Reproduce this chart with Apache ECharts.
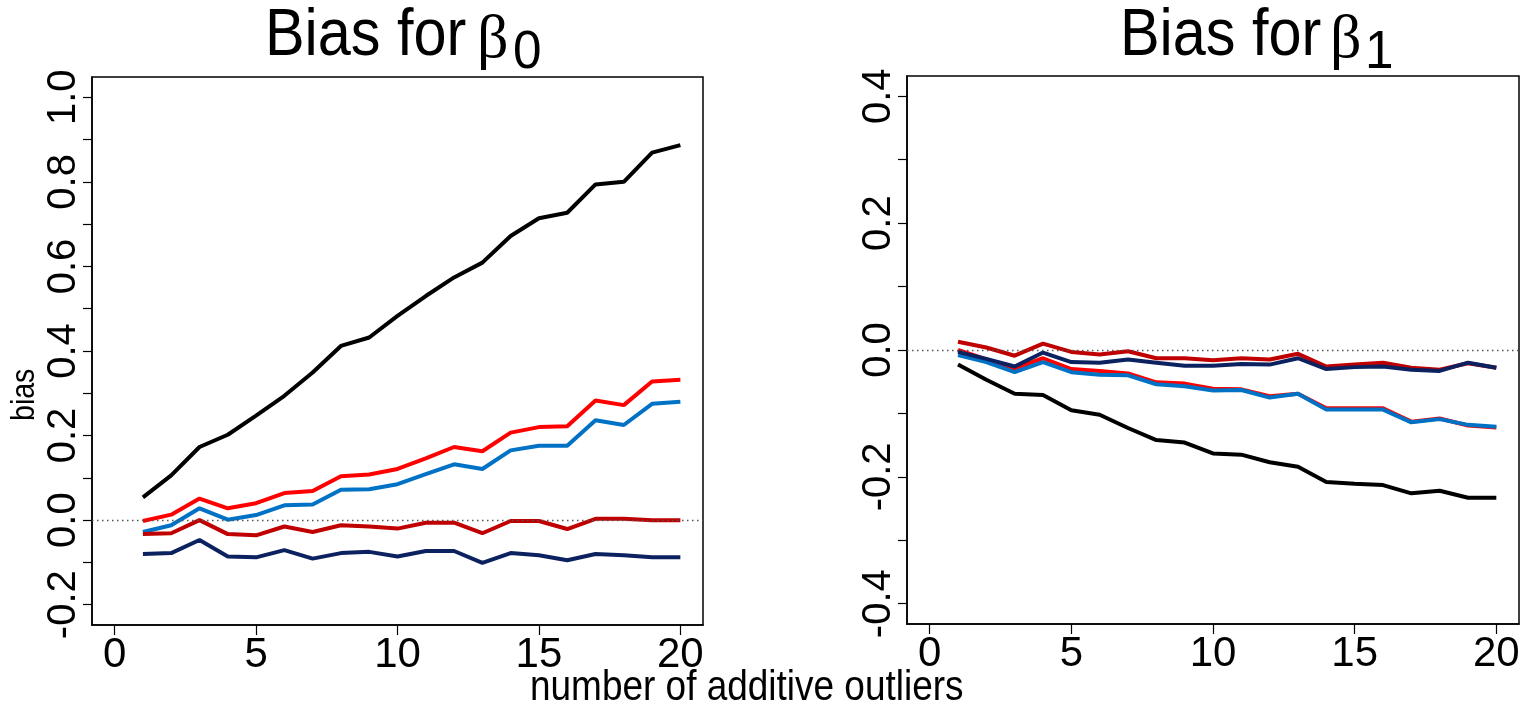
<!DOCTYPE html>
<html>
<head>
<meta charset="utf-8">
<title>Bias for beta</title>
<script src="https://cdn.jsdelivr.net/npm/echarts@6/dist/echarts.min.js"></script>
<style>
html, body {margin:0;padding:0;background:#fff;}
#chart {width:1529px;height:709px;}
</style>
</head>
<body>
<div id="chart"></div>
<script>
// number of additive outliers (x)
var outliers = [1,2,3,4,5,6,7,8,9,10,11,12,13,14,15,16,17,18,19,20];

// left panel: bias for beta0
var b0Black   = [0.054,0.106,0.173,0.202,0.247,0.294,0.349,0.412,0.432,0.483,0.530,0.574,0.609,0.672,0.714,0.727,0.794,0.800,0.869,0.887];
var b0Red     = [-0.002,0.013,0.051,0.028,0.040,0.064,0.069,0.104,0.108,0.121,0.146,0.173,0.163,0.207,0.220,0.222,0.283,0.272,0.328,0.332];
var b0Blue    = [-0.028,-0.012,0.028,0.001,0.012,0.035,0.037,0.072,0.073,0.085,0.109,0.132,0.121,0.165,0.176,0.176,0.236,0.225,0.275,0.280];
var b0DarkRed = [-0.033,-0.031,0.000,-0.033,-0.036,-0.015,-0.028,-0.012,-0.015,-0.020,-0.006,-0.006,-0.031,-0.002,-0.002,-0.021,0.003,0.003,0.000,0.000];
var b0Navy    = [-0.080,-0.078,-0.047,-0.086,-0.088,-0.071,-0.091,-0.078,-0.075,-0.086,-0.073,-0.073,-0.101,-0.078,-0.083,-0.095,-0.080,-0.083,-0.088,-0.088];

// right panel: bias for beta1
var b1Black   = [-0.023,-0.047,-0.069,-0.071,-0.095,-0.102,-0.123,-0.142,-0.146,-0.163,-0.165,-0.177,-0.184,-0.208,-0.211,-0.213,-0.226,-0.222,-0.233,-0.233];
var b1Red     = [0.000,-0.015,-0.029,-0.013,-0.030,-0.033,-0.037,-0.051,-0.053,-0.061,-0.062,-0.073,-0.069,-0.092,-0.092,-0.092,-0.113,-0.108,-0.119,-0.122];
var b1Blue    = [-0.008,-0.019,-0.035,-0.019,-0.035,-0.039,-0.040,-0.054,-0.057,-0.064,-0.063,-0.075,-0.069,-0.094,-0.094,-0.094,-0.114,-0.109,-0.118,-0.121];
var b1DarkRed = [0.013,0.004,-0.009,0.010,-0.003,-0.007,-0.002,-0.013,-0.013,-0.016,-0.013,-0.015,-0.006,-0.026,-0.023,-0.020,-0.028,-0.031,-0.021,-0.028];
var b1Navy    = [-0.003,-0.014,-0.026,-0.004,-0.019,-0.020,-0.015,-0.020,-0.025,-0.025,-0.022,-0.023,-0.013,-0.030,-0.027,-0.026,-0.031,-0.033,-0.020,-0.028];

// ticks and labels
var xTicks = [0,5,10,15,20];
var y0Ticks  = [-0.2,-0.1,0,0.1,0.2,0.3,0.4,0.5,0.6,0.7,0.8,0.9,1.0];
var y0Labels = [-0.2,0,0.2,0.4,0.6,0.8,1.0];
var y1Ticks  = [-0.4,-0.3,-0.2,-0.1,0,0.1,0.2,0.3,0.4];
var y1Labels = [-0.4,-0.2,0,0.2,0.4];

var sans = '"Liberation Sans", Arial, sans-serif';
var serif = '"Liberation Serif", "DejaVu Serif", serif';

function pairs(ys) {
  return outliers.map(function (x, i) { return [x, ys[i]]; });
}

function xAxisOf(idx) {
  return {
    type: 'value', gridIndex: idx, min: -0.8, max: 20.8,
    axisLine: {show: true, onZero: false, lineStyle: {color: '#000', width: 1.5}},
    axisTick: {show: true, inside: false, length: 10, customValues: xTicks, lineStyle: {color: '#000', width: 1.2}},
    axisLabel: {customValues: xTicks, color: '#000', fontSize: 42, fontFamily: sans, margin: 9},
    splitLine: {show: false}
  };
}

function yAxisOf(idx, lo, hi, ticks, labels) {
  return {
    type: 'value', gridIndex: idx, min: lo, max: hi,
    axisLine: {show: true, onZero: false, lineStyle: {color: '#000', width: 1.5}},
    axisTick: {show: true, inside: false, length: 9, customValues: ticks, lineStyle: {color: '#000', width: 1.2}},
    axisLabel: {
      customValues: labels, rotate: 90, color: '#000', fontSize: 40, fontFamily: sans, margin: 8,
      formatter: function (v) { return v.toFixed(1); }
    },
    splitLine: {show: false}
  };
}

function line(name, idx, ys, color, zero) {
  var s = {
    name: name, type: 'line', xAxisIndex: idx, yAxisIndex: idx,
    data: pairs(ys), symbol: 'none', showSymbol: false,
    lineStyle: {color: color, width: 4}, itemStyle: {color: color}
  };
  if (zero) {
    s.markLine = {
      silent: true, symbol: ['none', 'none'], label: {show: false},
      lineStyle: {color: '#555', type: [1.5, 3.5], width: 1.3},
      data: [{yAxis: 0}]
    };
  }
  return s;
}

// text pieces placed by x/y (top-left of text box); sx squeezes the width
function txt(x, y, s, font, sx, rot) {
  return {
    type: 'text', x: x, y: y, scaleX: sx || 1, rotation: rot || 0, silent: true,
    style: {text: s, font: font, fill: '#000', align: 'left', verticalAlign: 'top'}
  };
}

var cBlack = '#000000', cRed = '#ff0000', cBlue = '#0072c6', cDarkRed = '#c00000', cNavy = '#0c2260';

var myChart = echarts.init(document.getElementById('chart'));
var option = {
  animation: false,
  backgroundColor: '#fff',
  grid: [
    {left: 92, top: 77, width: 611, height: 548, show: true, borderColor: '#000', borderWidth: 1.5},
    {left: 907, top: 76, width: 612, height: 548, show: true, borderColor: '#000', borderWidth: 1.5}
  ],
  xAxis: [xAxisOf(0), xAxisOf(1)],
  yAxis: [
    yAxisOf(0, -0.248, 1.048, y0Ticks, y0Labels),
    yAxisOf(1, -0.432, 0.432, y1Ticks, y1Labels)
  ],
  graphic: [
    txt(265, 4, 'Bias for', '66px ' + sans, 0.9),
    txt(477, 10, 'β', '62px ' + serif),
    txt(513, 26, '0', '54px ' + sans, 0.95),
    txt(1120, 4, 'Bias for', '66px ' + sans, 0.9),
    txt(1330, 10, 'β', '62px ' + serif),
    txt(1365, 26, '1', '54px ' + sans, 0.95),
    txt(8, 421, 'bias', '34px ' + sans, 0.84, Math.PI / 2),
    txt(530, 667, 'number of additive outliers', '42px ' + sans, 0.88)
  ],
  series: [
    line('black0', 0, b0Black, cBlack, true),
    line('red0', 0, b0Red, cRed),
    line('blue0', 0, b0Blue, cBlue),
    line('darkred0', 0, b0DarkRed, cDarkRed),
    line('navy0', 0, b0Navy, cNavy),
    line('black1', 1, b1Black, cBlack, true),
    line('red1', 1, b1Red, cRed),
    line('blue1', 1, b1Blue, cBlue),
    line('darkred1', 1, b1DarkRed, cDarkRed),
    line('navy1', 1, b1Navy, cNavy)
  ]
};
myChart.setOption(option);
</script>
</body>
</html>
